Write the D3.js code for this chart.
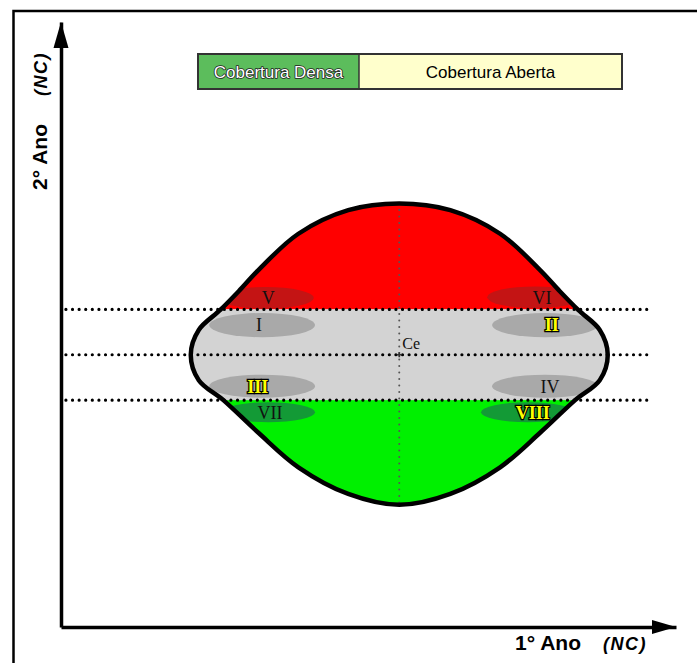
<!DOCTYPE html>
<html><head><meta charset="utf-8">
<script src="https://cdn.jsdelivr.net/npm/d3@7"></script>
<style>html,body{margin:0;padding:0;background:#fff;} svg{display:block;}</style>
</head><body><svg id="c" width="697" height="663"></svg>
<script>
// ---- data (diagram units, 0-100 on each axis) ----
const coverClasses = ["Cobertura Densa", "Cobertura Aberta"];
const levelLines = [52.5, 45, 37.5];          // horizontal dotted lines
const centerX = 55;                            // vertical dotted line (Ce)
const centerY = 45;
const outlineX = [55, 63.3, 71.4, 77.9, 81.1, 84.1, 87.6, 88.9, 87.6, 83.6, 77.9, 71.4, 63.3, 55, 46.7, 38.6, 32.1, 26.4, 22.4, 21.1, 22.4, 25.9, 28.9, 32.1, 38.6, 46.7];
const outlineY = [70, 68.9, 65.0, 59.0, 55.5, 52.4, 49.1, 45.0, 40.8, 37.5, 32.1, 26.4, 22.0, 20.2, 22.0, 26.4, 32.1, 37.5, 40.8, 45.0, 49.1, 52.4, 55.5, 59.0, 65.0, 68.9];
const zoneLabels = ["V", "VI", "I", "II", "III", "IV", "VII", "VIII"];
const zoneX  = [33.3, 77.1, 32.7, 78.7, 32.7, 78.7, 33.7, 75.9];
const zoneY  = [54.4, 54.5, 49.9, 49.9, 39.8, 39.8, 35.5, 35.5];
const zoneRX = [7.8, 7.8, 8.6, 8.6, 8.6, 8.6, 7.6, 7.6];
const zoneRY = [1.8, 1.8, 2.0, 2.0, 1.9, 1.9, 1.65, 1.65];
const zoneLabelX = [33.7, 78.2, 32.2, 79.8, 32.0, 79.5, 34.0, 76.7];
const zoneBand = ["high", "high", "mid", "mid", "mid", "mid", "low", "low"];
const zoneHighlight = [false, false, false, true, true, false, false, true];
const centroidLabel = "Ce";
const axisTitles = ["1° Ano", "2° Ano"];
const unitLabel = "(NC)";

// ---- styles ----
const bandFill = {high: "#ff0000", mid: "#d3d3d3", low: "#00f000"};
const zoneFill = {high: "#c41414", mid: "#a9a9a9", low: "#139a36"};

const svg = d3.select("#c");
const x = d3.scaleLinear().domain([0, 100]).range([61, 676]);
const y = d3.scaleLinear().domain([0, 100]).range([627, 22]);
const sx = d3.scaleLinear().domain([0, 1]).range([0, 6.15]);
const sy = d3.scaleLinear().domain([0, 1]).range([0, 6.05]);

// frame
svg.append("rect").attr("x", 13.5).attr("y", 11).attr("width", 720).attr("height", 720)
  .attr("fill", "none").attr("stroke", "#000").attr("stroke-width", 2.5);

// legend
const legW = [161, 263];
let lx = 198;
const leg = svg.append("g");
coverClasses.forEach((c, i) => {
  leg.append("rect").attr("x", lx).attr("y", 54).attr("width", legW[i]).attr("height", 35)
    .attr("fill", i === 0 ? "#5cbd5c" : "#ffffcc");
  const t = leg.append("text").attr("x", lx + legW[i] / 2).attr("y", 77.5)
    .attr("text-anchor", "middle").attr("font-family", "Liberation Sans, Arial, sans-serif")
    .attr("font-size", 17).text(c);
  if (i === 0) t.attr("fill", "#fff").attr("stroke", "#222").attr("stroke-width", 1.6)
    .attr("paint-order", "stroke").attr("stroke-linejoin", "round");
  else t.attr("fill", "#000");
  lx += legW[i];
});
leg.append("rect").attr("x", 198).attr("y", 54).attr("width", 424).attr("height", 35)
  .attr("fill", "none").attr("stroke", "#333").attr("stroke-width", 2);
leg.append("line").attr("x1", 359).attr("x2", 359).attr("y1", 54).attr("y2", 89)
  .attr("stroke", "#333").attr("stroke-width", 1.5);

// shape
const pts = outlineX.map((d, i) => [x(d), y(outlineY[i])]);
const shapePath = d3.line().curve(d3.curveCatmullRomClosed.alpha(0.5))(pts);
svg.append("clipPath").attr("id", "shapeClip").append("path").attr("d", shapePath);
const inner = svg.append("g").attr("clip-path", "url(#shapeClip)");
inner.append("rect").attr("x", x(0)).attr("width", x(100) - x(0))
  .attr("y", y(100)).attr("height", y(levelLines[0]) - y(100)).attr("fill", bandFill.high);
inner.append("rect").attr("x", x(0)).attr("width", x(100) - x(0))
  .attr("y", y(levelLines[0])).attr("height", y(levelLines[2]) - y(levelLines[0])).attr("fill", bandFill.mid);
inner.append("rect").attr("x", x(0)).attr("width", x(100) - x(0))
  .attr("y", y(levelLines[2])).attr("height", y(0) - y(levelLines[2])).attr("fill", bandFill.low);
inner.selectAll("ellipse").data(zoneLabels).join("ellipse")
  .attr("cx", (d, i) => x(zoneX[i])).attr("cy", (d, i) => y(zoneY[i]))
  .attr("rx", (d, i) => sx(zoneRX[i])).attr("ry", (d, i) => sy(zoneRY[i]))
  .attr("fill", (d, i) => zoneFill[zoneBand[i]]);

// vertical dotted line
svg.append("line").attr("x1", x(centerX)).attr("x2", x(centerX))
  .attr("y1", y(d3.max(outlineY))).attr("y2", y(d3.min(outlineY)))
  .attr("stroke", "#555").attr("stroke-width", 2).attr("stroke-linecap", "round")
  .attr("stroke-dasharray", "0 6.5");

// outline
svg.append("path").attr("d", shapePath).attr("fill", "none").attr("stroke", "#000")
  .attr("stroke-width", 4.5);

// horizontal dotted lines
svg.selectAll(".lvl").data(levelLines).join("line").attr("class", "lvl")
  .attr("x1", x(0.8)).attr("x2", x(96)).attr("y1", d => y(d)).attr("y2", d => y(d))
  .attr("stroke", "#000").attr("stroke-width", 3.2).attr("stroke-linecap", "round")
  .attr("stroke-dasharray", "0 6.6");

// zone labels
svg.selectAll(".zl").data(zoneLabels).join("text").attr("class", "zl")
  .attr("x", (d, i) => x(zoneLabelX[i])).attr("y", (d, i) => y(zoneY[i]))
  .attr("dy", "0.35em").attr("text-anchor", "middle")
  .attr("font-family", "Liberation Serif, Times New Roman, serif")
  .attr("font-size", 18)
  .attr("font-weight", (d, i) => zoneHighlight[i] ? "bold" : "normal")
  .attr("fill", (d, i) => zoneHighlight[i] ? "#ffff00" : "#111")
  .attr("stroke", (d, i) => zoneHighlight[i] ? "#000" : "none")
  .attr("stroke-width", 2.4).attr("paint-order", "stroke").attr("stroke-linejoin", "miter")
  .text(d => d);

// centroid
svg.append("text").attr("x", x(centerX) + 3).attr("y", y(centerY) - 6)
  .attr("font-family", "Liberation Serif, Times New Roman, serif").attr("font-size", 16)
  .attr("fill", "#111").text(centroidLabel);
svg.append("path").attr("d", d3.symbol(d3.symbolCross, 14)())
  .attr("transform", `translate(${x(centerX)},${y(centerY)})`).attr("fill", "#333");

// axes
const xAxis = d3.axisBottom(x).tickValues([]).tickSizeOuter(0);
const yAxis = d3.axisLeft(y).tickValues([]).tickSizeOuter(0);
svg.append("g").attr("transform", `translate(0,${y(0)})`).call(xAxis)
  .select(".domain").attr("stroke", "#000").attr("stroke-width", 3.5);
svg.append("g").attr("transform", `translate(${x(0)},0)`).call(yAxis)
  .select(".domain").attr("stroke", "#000").attr("stroke-width", 3.5);
svg.append("path")
  .attr("d", `M${x(100)},${y(0)} L${x(100) - 24},${y(0) - 7} L${x(100) - 24},${y(0) + 7} Z`)
  .attr("fill", "#000");
svg.append("path")
  .attr("d", `M${x(0)},${y(100)} L${x(0) - 7.5},${y(100) + 26} L${x(0) + 7.5},${y(100) + 26} Z`)
  .attr("fill", "#000");

// axis titles
const xt = svg.append("text").attr("x", 515).attr("y", 650)
  .attr("font-family", "Liberation Sans, Arial, sans-serif").attr("font-weight", "bold")
  .attr("font-size", 21).attr("fill", "#000");
xt.append("tspan").text(axisTitles[0]);
xt.append("tspan").attr("x", 603).attr("font-style", "italic").attr("font-size", 18)
  .attr("letter-spacing", 1.5).text(unitLabel);

const yt = svg.append("text").attr("transform", "translate(47,190) rotate(-90)")
  .attr("font-family", "Liberation Sans, Arial, sans-serif").attr("font-weight", "bold")
  .attr("font-size", 21).attr("fill", "#000");
yt.append("tspan").text(axisTitles[1]);
yt.append("tspan").attr("x", 94).attr("font-style", "italic").attr("font-size", 18)
  .attr("letter-spacing", 1.5).text(unitLabel);
</script></body></html>
